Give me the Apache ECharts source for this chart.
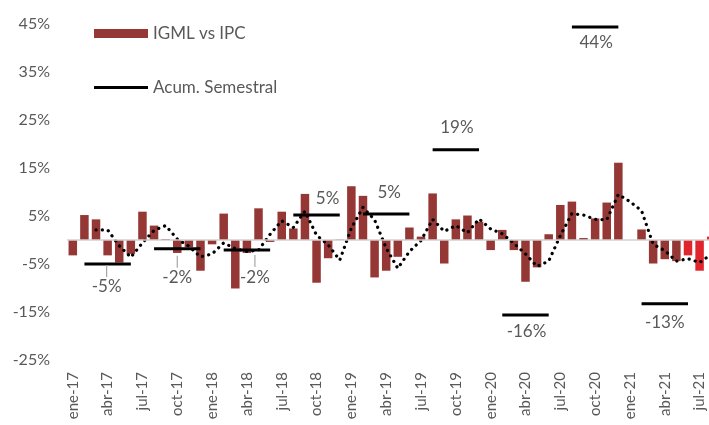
<!DOCTYPE html>
<html>
<head>
	<meta charset="UTF-8">
	<title>IGML vs IPC</title>
	<style>
		html, body { margin:0; padding:0; background:#fff; }
		#chart { width:709px; height:425px; }
	</style>
</head>
<body>
<div id="chart"></div>

<script src="https://cdn.jsdelivr.net/npm/echarts@6/dist/echarts.min.js"></script>
<script type="text/javascript">
	// meses ene-17 .. ago-21
	var months = [
		'ene-17','feb-17','mar-17','abr-17','may-17','jun-17','jul-17','ago-17','sep-17','oct-17','nov-17','dic-17',
		'ene-18','feb-18','mar-18','abr-18','may-18','jun-18','jul-18','ago-18','sep-18','oct-18','nov-18','dic-18',
		'ene-19','feb-19','mar-19','abr-19','may-19','jun-19','jul-19','ago-19','sep-19','oct-19','nov-19','dic-19',
		'ene-20','feb-20','mar-20','abr-20','may-20','jun-20','jul-20','ago-20','sep-20','oct-20','nov-20','dic-20',
		'ene-21','feb-21','mar-21','abr-21','may-21','jun-21','jul-21','ago-21'
	];

	// IGML vs IPC, % mensual
	var igml = [
		-3.2, 5.2, 4.3, -3.2, -4.7, -2.9, 5.9, 3.0, 0.2, -2.7, -1.5, -6.4,
		-0.9, 5.5, -10.1, -2.7, 6.6, -0.4, 5.9, 2.4, 9.6, -8.9, -3.8, 0.1,
		11.2, 9.2, -7.8, -6.4, -3.5, 2.6, 0.7, 9.7, -4.9, 4.3, 5.1, 3.8,
		-2.1, 2.1, -2.1, -8.7, -5.7, 1.2, 7.3, 8.0, 0.4, 4.5, 7.8, 16.1,
		0.0, 2.2, -4.9, -4.0, -4.4, -3.2, -6.4, 0.7
	];

	// tendencia (línea punteada)
	var trend = [
		null, null, 2.1, 2.1, -1.2, -3.6, -0.6, 2.0, 3.0, 0.2, -1.3, -3.5,
		-2.9, -0.6, -1.8, -2.4, -2.1, 1.2, 4.0, 2.6, 6.0, 1.0, -1.0, -4.2,
		2.5, 6.8, 4.2, -1.7, -5.9, -2.4, -0.1, 4.3, 1.8, 3.0, 1.5, 4.4,
		2.3, 1.3, -0.7, -2.9, -5.5, -4.4, 0.9, 5.5, 5.2, 4.3, 4.2, 9.5,
		8.0, 6.1, -0.9, -2.2, -4.4, -3.9, -4.7, -3.0
	];

	// Acum. Semestral
	var semestral = [
		null, -5.0, -5.0, -5.0, -5.0, -5.0, null, -1.8, -1.8, -1.8, -1.8, -1.8,
		null, -2.1, -2.1, -2.1, -2.1, -2.1, null, 5.2, 5.2, 5.2, 5.2, 5.2,
		null, 5.4, 5.4, 5.4, 5.4, 5.4, null, 18.8, 18.8, 18.8, 18.8, 18.8,
		null, -15.6, -15.6, -15.6, -15.6, -15.6, null, 44.4, 44.4, 44.4, 44.4, 44.4,
		null, -13.3, -13.3, -13.3, -13.3, -13.3, null, null
	];

	// meses resaltados en rojo
	var highlighted = ['jun-21', 'jul-21', 'ago-21'];

	// etiquetas del acumulado: índice -> [posición, dx, dy, guía]
	var labelPlace = {
		3:  ['bottom', -1, 1, true],
		9:  ['bottom', 0, 7, true],
		15: ['bottom', 8, 5, true],
		21: ['top', 11, -7, false],
		27: ['top', 3, -12, false],
		33: ['top', 1, -12, false],
		39: ['bottom', 1, 7, false],
		45: ['bottom', 1, 6, false],
		51: ['bottom', 0, 9, false]
	};

	var grey = '#595959';
	var font = 'Lato, "Open Sans", sans-serif';

	var barData = igml.map(function(v, i)
	{
		if (highlighted.indexOf(months[i]) >= 0)
			return { value: v, itemStyle: { color: '#e0262c' } };
		return v;
	});

	var semData = semestral.map(function(v, i)
	{
		var n = labelPlace[i];
		if (!n) return v;
		var txt = Math.round(v) + '%';
		return {
			value: v,
			label: {
				show: true,
				position: n[0],
				offset: [n[1], n[2]],
				formatter: n[3] ? '{g| }\n{v|' + txt + '}' : '{v|' + txt + '}'
			}
		};
	});

	var chart = echarts.init(document.getElementById('chart'));
	var option =
	{
		animation: false,
		textStyle: { fontFamily: font },
		legend:
		{
			orient: 'vertical',
			left: 89,
			top: 20,
			itemWidth: 54,
			itemHeight: 9,
			itemGap: 37,
			textStyle: { color: grey, fontSize: 17, fontFamily: font },
			data: [
				{ name: 'IGML vs IPC', icon: 'rect' },
				{ name: 'Acum. Semestral', icon: 'path://M0,0H54V3H0Z', itemStyle: { color: '#000' } }
			]
		},
		grid:
		{
			left: 67,
			top: 24,
			width: 650,
			bottom: 65,
			outerBoundsMode: 'none'
		},
		xAxis:
		{
			type: 'category',
			data: months,
			axisLine: { show: false },
			axisTick: { show: false },
			axisLabel:
			{
				interval: 2,
				rotate: 90,
				margin: 12,
				color: grey,
				fontSize: 15,
				fontFamily: font
			}
		},
		yAxis:
		{
			type: 'value',
			min: -25,
			max: 45,
			interval: 10,
			axisLine: { show: false },
			axisTick: { show: false },
			splitLine: { show: false },
			axisLabel:
			{
				margin: 17,
				color: grey,
				fontSize: 16,
				fontFamily: font,
				formatter: function(v) { return v + '%'; }
			}
		},
		series:
		[
			{
				name: 'IGML vs IPC',
				type: 'bar',
				data: barData,
				barWidth: 8.5,
				itemStyle: { color: '#953735' },
				markLine:
				{
					silent: true,
					symbol: 'none',
					label: { show: false },
					lineStyle: { color: '#d0d0d0', width: 1.5, type: 'solid' },
					data: [{ yAxis: 0 }]
				},
				z: 2
			},
			{
				name: 'tendencia',
				type: 'line',
				data: trend,
				symbol: 'none',
				lineStyle: { color: '#000', width: 3.2, type: [0.1, 6.2], cap: 'round' },
				z: 3
			},
			{
				name: 'Acum. Semestral',
				type: 'line',
				data: semData,
				connectNulls: false,
				symbol: 'circle',
				symbolSize: 0,
				showSymbol: true,
				itemStyle: { color: '#000' },
				lineStyle: { color: '#000', width: 3 },
				label:
				{
					show: false,
					distance: 0,
					color: grey,
					fontFamily: font,
					rich:
					{
						g: { width: 1.2, height: 12, lineHeight: 12, backgroundColor: '#a6a6a6' },
						v: { fontSize: 17, lineHeight: 20, color: grey, fontFamily: font }
					}
				},
				z: 4
			}
		]
	};
	chart.setOption(option);
</script>
</body>
</html>
